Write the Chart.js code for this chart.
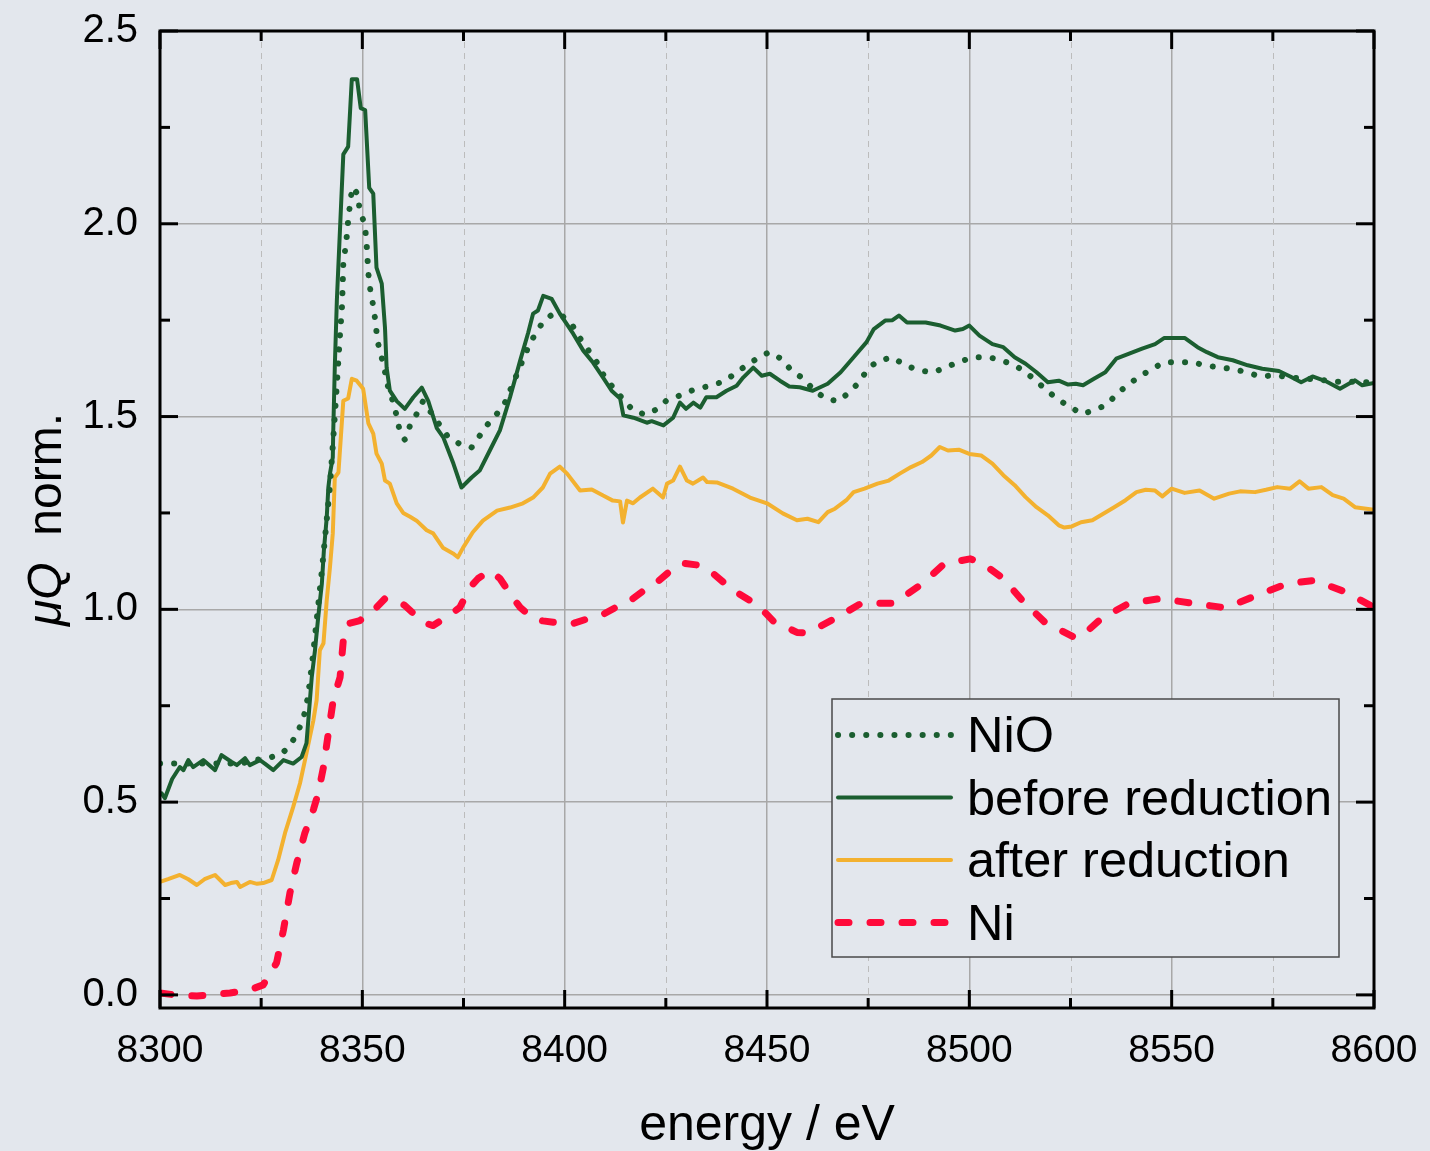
<!DOCTYPE html>
<html>
<head>
<meta charset="utf-8">
<script src="https://cdn.jsdelivr.net/npm/chart.js@4.4.1/dist/chart.umd.min.js"></script>
<style>
  html, body { margin: 0; padding: 0; background: #e3e7ed; }
  #wrap { width: 1430px; height: 1151px; }
</style>
</head>
<body>
<div id="wrap"><canvas id="c" width="1430" height="1151"></canvas></div>
<script>
// ---------------- data ----------------
const seriesNames = ['NiO', 'before reduction', 'after reduction', 'Ni'];

const nioEnergy = [8300,8304,8308,8312,8316,8320,8324,8327,8330,8332,8334,8335.5,8336.5,8337,8338,8339,8340,8341,8342,8343,8343.8,8344.4,8345,8345.3,8346,8346.6,8347.5,8348.8,8349.3,8350.2,8350.8,8351.1,8351.5,8352,8352.7,8353.2,8353.7,8354.3,8355,8355.8,8356.5,8357.8,8358.6,8359.3,8360.5,8361.8,8363.5,8365,8367,8369.2,8371,8374.6,8377,8379,8381,8383.5,8385,8387,8389,8391,8393,8395,8397,8399,8402,8404,8406,8408,8410,8412,8414,8417,8420,8423,8425,8429,8432,8436,8439,8442,8444.5,8447.5,8450.5,8453.5,8456,8459,8461.5,8464.5,8467.7,8470.3,8472.8,8474.9,8477.3,8480.8,8484.4,8487.9,8491.2,8494.7,8497.7,8501.3,8504.8,8508.1,8511,8513.4,8515.9,8518.7,8521.7,8524.4,8527.8,8530.8,8534,8536.5,8539,8541.8,8545.2,8548.2,8551.6,8555.2,8558.5,8561.4,8564.9,8568.5,8571.9,8575.6,8578.8,8583,8587,8591,8595,8600];
const nioMu = [0.60,0.60,0.60,0.60,0.60,0.60,0.61,0.615,0.625,0.645,0.68,0.72,0.77,0.81,0.90,1.00,1.10,1.21,1.32,1.47,1.60,1.70,1.79,1.90,1.95,2.02,2.095,2.078,2.04,2.01,1.977,1.94,1.87,1.826,1.787,1.75,1.70,1.67,1.645,1.606,1.57,1.533,1.495,1.46,1.44,1.477,1.508,1.54,1.51,1.477,1.45,1.425,1.42,1.45,1.48,1.51,1.53,1.58,1.63,1.68,1.72,1.75,1.765,1.765,1.735,1.70,1.67,1.64,1.60,1.575,1.55,1.515,1.505,1.52,1.54,1.557,1.57,1.58,1.59,1.61,1.63,1.65,1.667,1.65,1.62,1.598,1.57,1.546,1.54,1.563,1.589,1.624,1.643,1.654,1.632,1.619,1.615,1.63,1.643,1.654,1.654,1.645,1.634,1.619,1.598,1.572,1.546,1.528,1.507,1.516,1.531,1.559,1.581,1.602,1.624,1.641,1.641,1.641,1.632,1.628,1.624,1.615,1.604,1.607,1.602,1.598,1.595,1.59,1.59,1.588];

const beforeEnergy = [8300.4,8301.2,8303,8304.9,8305.8,8307,8308.2,8310.7,8313.6,8315.2,8317.7,8319,8321,8322.2,8324.7,8325.9,8328,8330.5,8332.9,8335,8336.2,8337.5,8338.3,8339.1,8340,8340.5,8341.2,8341.6,8342,8342.7,8342.8,8343.2,8343.7,8345.3,8346.5,8347.4,8348.7,8349.6,8350.7,8351.7,8352.7,8353.5,8354.8,8355.6,8356,8356.8,8358.5,8360.5,8362.6,8364.7,8366.3,8368.4,8370,8372.5,8374.5,8377,8379,8381.5,8384,8386.5,8389,8391,8392.2,8393.4,8394.7,8396.8,8398.8,8402.1,8404.6,8407,8409.5,8411.6,8413.7,8414.5,8417,8420.3,8421.5,8424.4,8426.8,8428.5,8430,8431.8,8433.5,8435,8437.5,8440,8442.5,8444.1,8446.6,8448.7,8450.7,8453.2,8455.5,8458.1,8461.3,8465,8468.2,8471.4,8474.6,8476.4,8479.2,8481,8482.6,8484.6,8489.2,8492.9,8496.5,8498.4,8500,8502.5,8505.7,8508.4,8511.2,8513.9,8516.6,8519.4,8522.1,8524.4,8526.3,8528.1,8530.8,8533.6,8536.3,8539.5,8542.7,8545.9,8548.2,8550.9,8553.2,8556.4,8558.7,8561.4,8565.1,8568.8,8572.4,8576.5,8579.3,8582,8584.8,8588,8591.6,8595.3,8597.1,8600];
const beforeMu = [0.523,0.51,0.56,0.591,0.583,0.609,0.591,0.609,0.583,0.622,0.604,0.596,0.614,0.596,0.609,0.60,0.583,0.609,0.60,0.617,0.653,0.824,0.894,0.98,1.067,1.153,1.238,1.316,1.352,1.394,1.456,1.63,1.80,2.18,2.20,2.375,2.375,2.30,2.295,2.093,2.078,1.886,1.845,1.73,1.627,1.567,1.54,1.52,1.55,1.575,1.54,1.47,1.446,1.378,1.316,1.342,1.36,1.412,1.464,1.55,1.645,1.718,1.767,1.775,1.813,1.805,1.767,1.715,1.671,1.64,1.601,1.567,1.547,1.503,1.497,1.484,1.488,1.477,1.497,1.536,1.52,1.536,1.523,1.55,1.55,1.567,1.58,1.601,1.627,1.606,1.611,1.593,1.578,1.576,1.567,1.585,1.615,1.654,1.693,1.727,1.749,1.75,1.762,1.744,1.744,1.736,1.723,1.727,1.736,1.71,1.688,1.68,1.654,1.637,1.615,1.589,1.593,1.583,1.585,1.581,1.598,1.615,1.65,1.663,1.676,1.688,1.704,1.704,1.704,1.68,1.667,1.654,1.646,1.633,1.624,1.618,1.604,1.589,1.604,1.592,1.572,1.594,1.581,1.587];

const afterEnergy = [8300,8302,8304.9,8307,8309.1,8311,8313.6,8316.1,8317.5,8319,8319.8,8322.2,8324,8325.5,8327.6,8329.2,8330.9,8332.9,8334.6,8336.2,8337.9,8338.7,8339.5,8340.4,8341.2,8342,8342.7,8343.2,8344.1,8345.3,8346.5,8347.4,8348.6,8350.2,8351.5,8352.7,8353.5,8354.8,8355.6,8356.8,8358.5,8360.1,8361.8,8363.4,8365.9,8367.5,8369.9,8372.4,8373.6,8374.9,8377.3,8379.8,8383.3,8386.5,8389.7,8392.2,8394.6,8396.4,8398.8,8400.6,8403.8,8406.7,8409.5,8411.9,8413.7,8414.4,8415.4,8416.9,8418.6,8421.8,8424.3,8425.3,8426.8,8428.5,8430.2,8431.7,8434.2,8435.2,8437.6,8441.6,8445.8,8450,8453.9,8457.4,8460,8462.7,8465,8466.8,8469.6,8471.4,8474.1,8477.3,8480.1,8482.8,8485.6,8488.3,8490.6,8492.7,8494.7,8497.4,8500,8502.9,8505.7,8508.4,8511.2,8513.9,8516.6,8519.4,8522.1,8523.5,8525.3,8527.6,8530.4,8533.1,8535.8,8538.6,8541.3,8543.6,8545.9,8547.7,8550,8553.2,8556.9,8560.5,8564.2,8566.9,8570.6,8573.3,8576.1,8579.3,8581.6,8583.8,8587,8589.8,8592.5,8595.3,8600];
const afterMu = [0.293,0.30,0.311,0.30,0.285,0.30,0.311,0.285,0.29,0.293,0.28,0.293,0.288,0.29,0.298,0.35,0.42,0.487,0.549,0.627,0.712,0.764,0.894,0.912,1.023,1.109,1.197,1.342,1.355,1.541,1.547,1.598,1.593,1.572,1.482,1.456,1.404,1.378,1.334,1.326,1.275,1.25,1.24,1.23,1.205,1.197,1.16,1.145,1.135,1.16,1.20,1.23,1.256,1.264,1.275,1.29,1.316,1.352,1.37,1.352,1.308,1.311,1.295,1.282,1.28,1.225,1.282,1.275,1.29,1.313,1.29,1.326,1.334,1.37,1.334,1.326,1.342,1.33,1.329,1.313,1.29,1.275,1.249,1.231,1.235,1.226,1.252,1.261,1.283,1.304,1.313,1.326,1.334,1.352,1.369,1.382,1.399,1.421,1.412,1.414,1.403,1.399,1.378,1.348,1.322,1.291,1.265,1.244,1.218,1.212,1.215,1.226,1.231,1.248,1.265,1.283,1.304,1.31,1.308,1.293,1.313,1.302,1.308,1.287,1.30,1.306,1.304,1.31,1.317,1.313,1.332,1.313,1.317,1.296,1.287,1.265,1.258];

const niEnergy = [8300,8303.7,8309.1,8317.3,8322.2,8325.5,8328.8,8330.5,8332.1,8333.8,8335.8,8337.9,8339.1,8340.4,8341.6,8342.8,8344.5,8345.3,8346.5,8349.4,8353.5,8355.6,8358.5,8360.5,8365,8367.5,8371.4,8374.1,8376.6,8378.6,8381.5,8384,8387.2,8389,8392.2,8394.6,8399.6,8402,8407,8409.5,8414.4,8416.9,8420.6,8422.8,8426.8,8429.2,8433.4,8435.9,8439.6,8441.6,8445.8,8448.3,8451.5,8453.9,8457.4,8460,8466.8,8473.2,8481.5,8488.3,8493.8,8500.2,8502.9,8508.4,8513,8518.5,8525.8,8527.6,8532.6,8539.5,8547.3,8555,8563.3,8571,8578.4,8585.2,8593,8600];
const niMu = [0.005,0.0,-0.003,0.005,0.013,0.026,0.083,0.168,0.264,0.342,0.42,0.48,0.523,0.591,0.679,0.764,0.824,0.92,0.963,0.971,1.005,1.028,1.023,1.01,0.966,0.958,0.984,1.005,1.057,1.08,1.10,1.08,1.03,1.005,0.976,0.97,0.963,0.963,0.98,0.987,1.015,1.028,1.057,1.07,1.106,1.12,1.114,1.10,1.067,1.05,1.023,1.005,0.97,0.958,0.94,0.939,0.976,1.015,1.016,1.066,1.118,1.131,1.122,1.08,1.024,0.968,0.928,0.929,0.976,1.016,1.028,1.016,1.004,1.036,1.066,1.075,1.045,1.005];

const xTickValues = [8300, 8350, 8400, 8450, 8500, 8550, 8600];
const xMinorValues = [8325, 8375, 8425, 8475, 8525, 8575];
const yTickValues = [0.0, 0.5, 1.0, 1.5, 2.0, 2.5];
const yMinorValues = [0.25, 0.75, 1.25, 1.75, 2.25];
const xTitle = 'energy / eV';

// ---------------- styling ----------------
const FONT = '"Liberation Sans", Arial, Helvetica, sans-serif';
const BG = '#e3e7ed';
const GREEN = '#1b5e30';
const ORANGE = '#f3b12f';
const RED = '#ff0a3a';

function pts(xs, ys) { return xs.map((x, i) => ({ x: x, y: ys[i] })); }

const datasets = [
  { label: seriesNames[0], data: pts(nioEnergy, nioMu), borderColor: GREEN, borderWidth: 6,
    borderDash: [0.1, 14], borderCapStyle: 'round', borderJoinStyle: 'round' },
  { label: seriesNames[1], data: pts(beforeEnergy, beforeMu), borderColor: GREEN, borderWidth: 4,
    borderDash: [], borderCapStyle: 'round', borderJoinStyle: 'round' },
  { label: seriesNames[2], data: pts(afterEnergy, afterMu), borderColor: ORANGE, borderWidth: 4,
    borderDash: [], borderCapStyle: 'round', borderJoinStyle: 'round' },
  { label: seriesNames[3], data: pts(niEnergy, niMu), borderColor: RED, borderWidth: 7,
    borderDash: [11, 21], borderCapStyle: 'round', borderJoinStyle: 'round' }
];
datasets.forEach(d => { d.pointRadius = 0; d.fill = false; d.tension = 0; });

function zeroPad(s) { s.paddingTop = 0; s.paddingBottom = 0; s.paddingLeft = 0; s.paddingRight = 0; }

const decor = {
  id: 'decor',
  beforeDatasetsDraw(chart) {
    const { ctx, chartArea: a, scales: { x } } = chart;
    ctx.save();
    ctx.strokeStyle = '#bcbcbc';
    ctx.lineWidth = 1;
    ctx.setLineDash([6, 5]);
    xMinorValues.forEach(v => {
      const px = Math.round(x.getPixelForValue(v)) + 0.5;
      ctx.beginPath(); ctx.moveTo(px, a.top); ctx.lineTo(px, a.bottom); ctx.stroke();
    });
    ctx.restore();
  },
  afterDatasetsDraw(chart) {
    const { ctx, chartArea: a, scales: { x, y } } = chart;
    ctx.save();
    ctx.strokeStyle = '#000';
    ctx.lineWidth = 3;
    ctx.setLineDash([]);
    ctx.lineCap = 'butt';
    const tick = (x1, y1, x2, y2) => { ctx.beginPath(); ctx.moveTo(x1, y1); ctx.lineTo(x2, y2); ctx.stroke(); };
    xTickValues.concat(xMinorValues).forEach(v => {
      const px = x.getPixelForValue(v);
      const len = xTickValues.includes(v) ? 18 : 10;
      tick(px, a.bottom, px, a.bottom - len);
      tick(px, a.top, px, a.top + len);
    });
    yTickValues.concat(yMinorValues).forEach(v => {
      const py = y.getPixelForValue(v);
      const len = yTickValues.includes(v) ? 18 : 10;
      tick(a.left, py, a.left + len, py);
      tick(a.right, py, a.right - len, py);
    });
    ctx.strokeRect(a.left, a.top, a.right - a.left, a.bottom - a.top);
    ctx.restore();
  },
  afterDraw(chart) {
    const { ctx, chartArea: a } = chart;
    ctx.save();
    // legend box
    const lw = 507, lh = 258;
    const lx = a.right - 35 - lw, ly = a.bottom - 51 - lh;
    ctx.fillStyle = BG;
    ctx.fillRect(lx, ly, lw, lh);
    ctx.strokeStyle = '#4a4a4a';
    ctx.lineWidth = 1.5;
    ctx.strokeRect(lx, ly, lw, lh);
    chart.data.datasets.forEach((d, i) => {
      const cy = ly + 36 + i * 62.5;
      ctx.save();
      ctx.strokeStyle = d.borderColor;
      ctx.lineWidth = d.borderWidth;
      ctx.lineCap = d.borderCapStyle;
      ctx.setLineDash(d.borderDash);
      ctx.beginPath();
      ctx.moveTo(lx + 6, cy);
      ctx.lineTo(lx + 119, cy);
      ctx.stroke();
      ctx.restore();
      ctx.fillStyle = '#000';
      ctx.font = '50.5px ' + FONT;
      ctx.textAlign = 'left';
      ctx.textBaseline = 'alphabetic';
      ctx.fillText(d.label, lx + 135, cy + 17);
    });
    // x title
    ctx.fillStyle = '#000';
    ctx.font = '50px ' + FONT;
    ctx.textAlign = 'center';
    ctx.textBaseline = 'alphabetic';
    ctx.fillText(xTitle, (a.left + a.right) / 2, 1140);
    // y title: italic μQ + "  norm."
    const p1 = 'μQ', p2 = '  norm.';
    ctx.translate(61, (a.top + a.bottom) / 2);
    ctx.rotate(-Math.PI / 2);
    ctx.font = 'italic 48px ' + FONT;
    const w1 = ctx.measureText(p1).width;
    ctx.font = '48px ' + FONT;
    const w2 = ctx.measureText(p2).width;
    const start = -(w1 + w2) / 2;
    ctx.textAlign = 'left';
    ctx.font = 'italic 48px ' + FONT;
    ctx.fillText(p1, start, 0);
    ctx.font = '48px ' + FONT;
    ctx.fillText(p2, start + w1, 0);
    ctx.restore();
  }
};

new Chart(document.getElementById('c'), {
  type: 'line',
  data: { datasets: datasets },
  options: {
    responsive: false,
    animation: false,
    devicePixelRatio: 1,
    layout: { padding: { left: 0, top: 31, right: 56, bottom: 0 } },
    plugins: { legend: { display: false }, tooltip: { enabled: false } },
    scales: {
      x: {
        type: 'linear', min: 8300, max: 8600,
        afterBuildTicks: s => { s.ticks = xTickValues.map(v => ({ value: v })); },
        afterFit: s => { s.height = 143; zeroPad(s); },
        grid: { color: '#a8a8a8', lineWidth: 1.5, drawTicks: false },
        border: { display: false },
        ticks: { color: '#000', font: { family: FONT, size: 39 }, padding: 20, maxRotation: 0, autoSkip: false,
                 callback: v => String(v) }
      },
      y: {
        type: 'linear', min: -0.034, max: 2.5,
        afterBuildTicks: s => { s.ticks = yTickValues.map(v => ({ value: v })); },
        afterFit: s => { s.width = 160; zeroPad(s); },
        grid: { color: '#a8a8a8', lineWidth: 1.5, drawTicks: false },
        border: { display: false },
        ticks: { color: '#000', font: { family: FONT, size: 40 }, padding: 22,
                 callback: v => Number(v).toFixed(1) }
      }
    }
  },
  plugins: [decor]
});
</script>
</body>
</html>
